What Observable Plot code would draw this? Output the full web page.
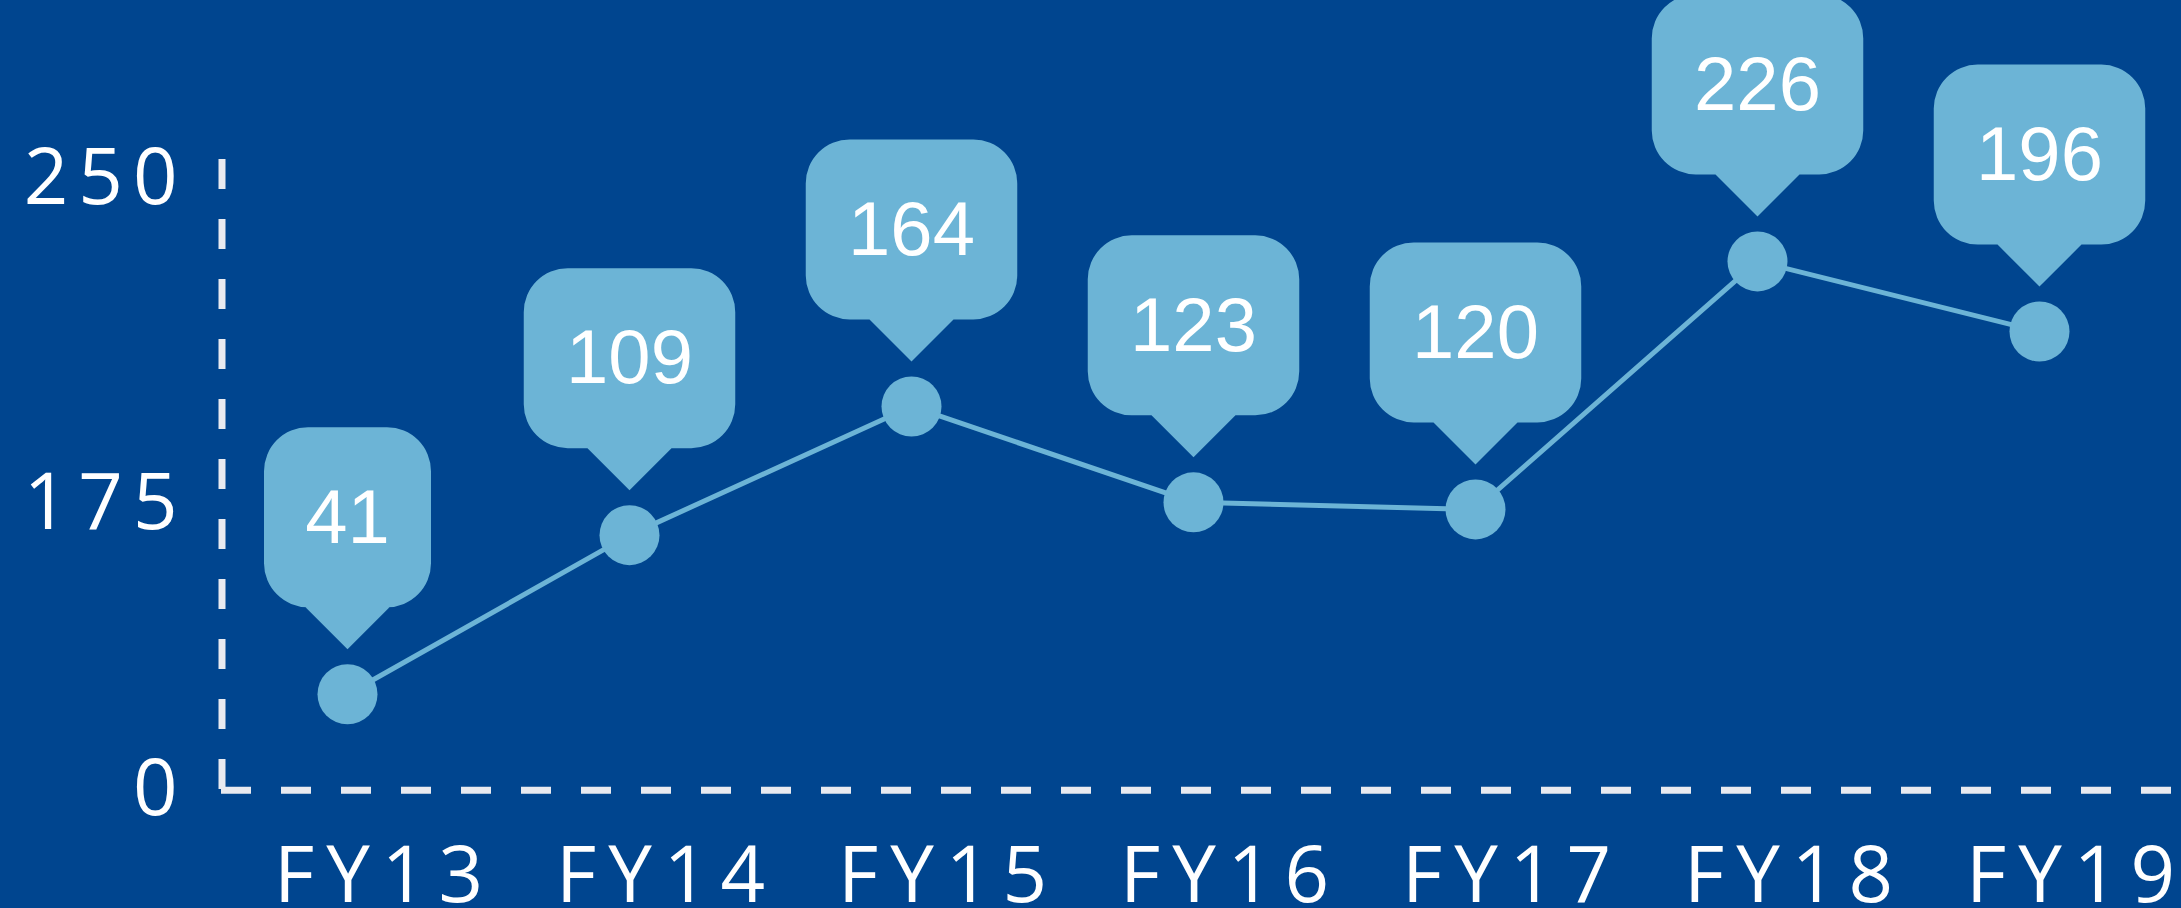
<!DOCTYPE html>
<html>
<head>
<meta charset="utf-8">
<script src="https://cdn.jsdelivr.net/npm/d3@7"></script>
<script src="https://cdn.jsdelivr.net/npm/@observablehq/plot@0.6"></script>
<style>
  html, body { margin: 0; padding: 0; background: #00458F; overflow: hidden; }
</style>
</head>
<body>
<div id="chart"></div>
<script>
const categories = ["FY13", "FY14", "FY15", "FY16", "FY17", "FY18", "FY19"];
const values = [41, 109, 164, 123, 120, 226, 196];
const yTickValues = [0, 122.5, 261];
const yTickLabels = ["0", "175", "250"];

const data = categories.map((c, i) => ({year: c, value: values[i]}));

const accent = "#6CB4D6";
const axisColor = "#E9EAF0";

function calloutSymbol(w) {
  const top = -267, bottom = -87, tip = -45, r = 44, pw = 42;
  return {
    draw(ctx) {
      ctx.moveTo(0, tip);
      ctx.lineTo(-pw, bottom);
      ctx.lineTo(-w + r, bottom);
      ctx.arcTo(-w, bottom, -w, bottom - r, r);
      ctx.lineTo(-w, top + r);
      ctx.arcTo(-w, top, -w + r, top, r);
      ctx.lineTo(w - r, top);
      ctx.arcTo(w, top, w, top + r, r);
      ctx.lineTo(w, bottom - r);
      ctx.arcTo(w, bottom, w - r, bottom, r);
      ctx.lineTo(pw, bottom);
      ctx.closePath();
    }
  };
}

const lengths = [...new Set(values.map(v => String(v).length))];
const calloutMarks = lengths.map(len =>
  Plot.dot(data, {
    filter: d => String(d.value).length === len,
    x: "year", y: "value", r: 1,
    symbol: calloutSymbol((len * 44.5 + 78) / 2),
    fill: accent, stroke: "none"
  })
);

const chart = Plot.plot({
  width: 2181,
  height: 908,
  marginLeft: 221,
  marginRight: 0,
  marginTop: 0,
  marginBottom: 116,
  x: {type: "point", domain: categories, range: [347, 2039], padding: 0},
  y: {domain: [-1, 337.5]},
  style: {background: "#00458F", color: "white", overflow: "hidden"},
  marks: [
    Plot.ruleY([0], {stroke: axisColor, strokeWidth: 7, strokeDasharray: "30,30"}),
    Plot.ruleX([categories[0]], {y1: 269.5, y2: 0, dx: -125.5, stroke: axisColor, strokeWidth: 7, strokeDasharray: "30,30"}),
    Plot.line(data, {x: "year", y: "value", stroke: accent, strokeWidth: 5}),
    Plot.dot(data, {x: "year", y: "value", r: 30, fill: accent, stroke: "none"}),
    ...calloutMarks,
    Plot.text(data, {x: "year", y: "value", text: d => String(d.value), dy: -176,
      fontSize: 76, fontFamily: "Liberation Sans, Arial, sans-serif", fill: "white"}),
    Plot.axisX({label: null, tickSize: 0, tickPadding: 54, dx: 37, fontSize: 78, fontFamily: "Open Sans", fill: "white"}),
    Plot.axisY(yTickValues, {label: null, tickSize: 0, tickPadding: 34, fontSize: 78, fontFamily: "Open Sans", fill: "white",
      tickFormat: d => yTickLabels[yTickValues.indexOf(d)]})
  ]
});

chart.querySelectorAll('g[font-family="Open Sans"]').forEach(g => {
  const isX = g.getAttribute("aria-label") && g.getAttribute("aria-label").startsWith("x");
  g.setAttribute("letter-spacing", isX ? "12" : "10");
});

document.getElementById("chart").appendChild(chart);
</script>
</body>
</html>
